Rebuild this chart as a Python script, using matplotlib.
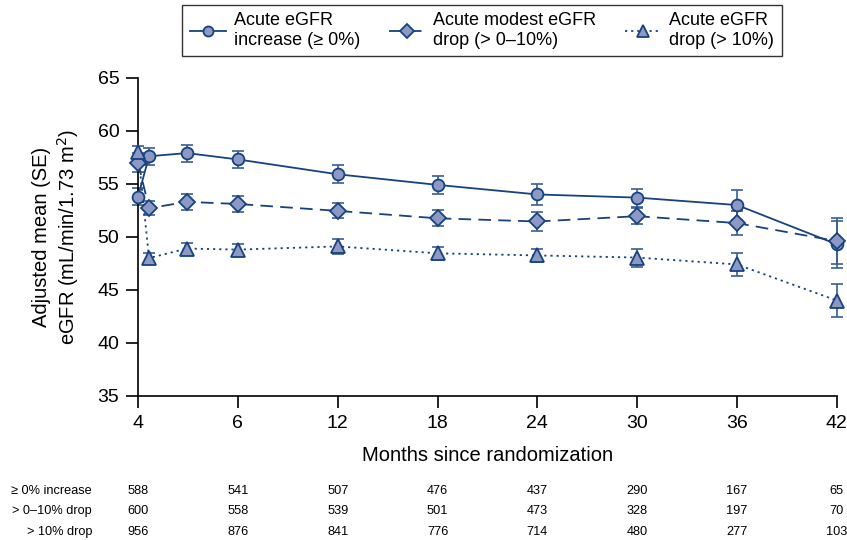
import matplotlib
matplotlib.use("Agg")
import matplotlib.pyplot as plt
from matplotlib.lines import Line2D

# ---- data ----
tick_labels = ["4", "6", "12", "18", "24", "30", "36", "42"]
x_pos = [0, 0.11, 0.49, 1, 2, 3, 4, 5, 6, 7]

inc_mean = [53.8, 57.6, 57.9, 57.3, 55.9, 54.9, 54.0, 53.7, 53.0, 49.3]
inc_se   = [0.8, 0.8, 0.8, 0.8, 0.85, 0.85, 0.95, 0.86, 1.4, 2.2]

mod_mean = [57.0, 52.7, 53.3, 53.1, 52.45, 51.75, 51.45, 51.95, 51.3, 49.6]
mod_se   = [0.9, 0.65, 0.75, 0.75, 0.7, 0.75, 0.85, 0.75, 1.15, 2.2]

drop_mean = [58.0, 48.0, 48.9, 48.8, 49.1, 48.45, 48.25, 48.05, 47.4, 44.0]
drop_se   = [0.6, 0.5, 0.55, 0.5, 0.7, 0.6, 0.63, 0.85, 1.07, 1.57]

row_labels = ["\u2265 0% increase", "> 0\u201310% drop", "> 10% drop"]
n_inc  = [588, 541, 507, 476, 437, 290, 167, 65]
n_mod  = [600, 558, 539, 501, 473, 328, 197, 70]
n_drop = [956, 876, 841, 776, 714, 480, 277, 103]

legend_labels = ["Acute eGFR\nincrease (\u2265 0%)",
                 "Acute modest eGFR\ndrop (> 0\u201310%)",
                 "Acute eGFR\ndrop (> 10%)"]

# ---- style ----
plt.rcParams['font.family'] = ['Liberation Sans', 'DejaVu Sans']
navy = "#17427f"
fill = "#8c99c5"
errc = "#3a5d91"

fig = plt.figure(figsize=(8.47, 5.40), dpi=100)
ax = fig.add_axes([0.163, 0.2667, 0.825, 0.5893])

series = [
    (inc_mean, inc_se, "o", "-", 8.5, legend_labels[0]),
    (mod_mean, mod_se, "D", (0, (7, 4)), 8.3, legend_labels[1]),
    (drop_mean, drop_se, "^", (0, (1.2, 2.2)), 9.5, legend_labels[2]),
]
handles = []
for mean, se, mk, ls, ms, lab in series:
    ax.errorbar(x_pos, mean, yerr=se, fmt="none", ecolor=errc, elinewidth=1.2,
                capsize=4.2, capthick=1.2, zorder=2, clip_on=False)
    ax.plot(x_pos, mean, linestyle=ls, color=navy, linewidth=1.3, zorder=3,
            clip_on=False)
    ax.plot(x_pos, mean, linestyle="none", marker=mk, markersize=ms,
            markerfacecolor=fill, markeredgecolor=navy, markeredgewidth=1.3,
            zorder=4, clip_on=False)
    handles.append(Line2D([], [], linestyle=ls, color=navy, linewidth=1.3,
                          marker=mk, markersize=ms * 0.85, markerfacecolor=fill,
                          markeredgecolor=navy, markeredgewidth=1.3))

ax.set_xlim(0, 7)
ax.set_ylim(35, 65)
ax.set_xticks(range(len(tick_labels)))
ax.set_xticklabels(tick_labels)
ax.set_yticks([35, 40, 45, 50, 55, 60, 65])
for s in ["top", "right"]:
    ax.spines[s].set_visible(False)
for s in ["left", "bottom"]:
    ax.spines[s].set_linewidth(1.2)
ax.tick_params(axis="both", direction="out", length=8.5, width=1.2,
               labelsize=14, pad=5)
ax.set_xlabel("Months since randomization", fontsize=14.5, labelpad=10)
ax.set_ylabel("Adjusted mean (SE)\neGFR (mL/min/1.73 m$^2$)", fontsize=14.5,
              labelpad=12, linespacing=1.2)

leg = fig.legend(handles, legend_labels, loc="upper center",
                 bbox_to_anchor=(0.569, 0.991), ncol=3, fontsize=13,
                 frameon=True, fancybox=False, edgecolor="black",
                 handlelength=2.0, columnspacing=1.6, handletextpad=0.45,
                 borderpad=0.4, borderaxespad=0.0)
leg.get_frame().set_linewidth(1.0)
for t in leg.get_texts():
    t.set_linespacing(1.2)

# ---- numbers at risk table ----
row_y = [491, 511, 532]
tfont = dict(fontsize=9.2, family=['Liberation Sans Narrow', 'Liberation Sans', 'DejaVu Sans'])
for lab, counts, yp in zip(row_labels, [n_inc, n_mod, n_drop], row_y):
    yf = 1 - yp / 540
    fig.text(92 / 847, yf, lab, ha="right", va="center", **tfont)
    for i, c in enumerate(counts):
        xd = ax.transData.transform((i, 0))[0]
        xf = fig.transFigure.inverted().transform((xd, 0))[0]
        fig.text(xf, yf, str(c), ha="center", va="center", **tfont)

fig.savefig("out.png", dpi=100)
